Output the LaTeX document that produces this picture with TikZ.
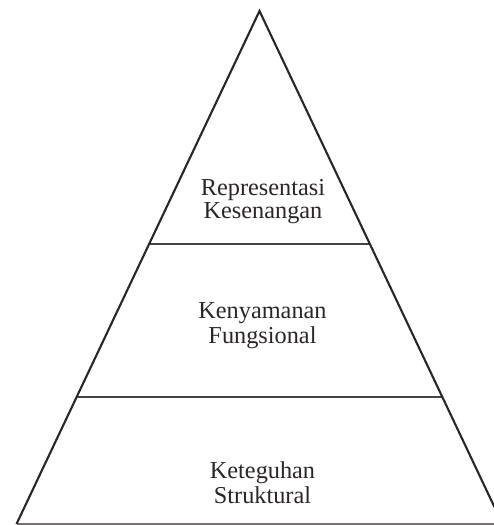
\documentclass[tikz,border=0pt]{standalone}
\usepackage{fontspec}
\setmainfont{Liberation Serif}
\usetikzlibrary{calc}
\definecolor{ink}{HTML}{2A2627}
\definecolor{divider}{HTML}{464243}
\tikzset{
  edge/.style={draw=ink, line width=2.1pt, line join=miter},
  divline/.style={draw=divider, line width=2.8pt},
  baseline/.style={draw=divider!75, line width=2.2pt},
  lbl/.style={anchor=base, inner sep=0pt, text=ink, font=\fontsize{24.3}{25}\selectfont}
}
\begin{document}
\begin{tikzpicture}[x=1pt,y=-1pt]
\useasboundingbox (0,0) rectangle (494,525);
\clip (0,0) rectangle (494,525);
\coordinate (A) at (259.5,11);
\coordinate (BL) at (16.5,524);
\coordinate (BR) at (502.5,524);
\coordinate (L1) at ($(A)!0.4542!(BL)$);
\coordinate (R1) at ($(A)!0.4542!(BR)$);
\coordinate (L2) at ($(A)!0.7524!(BL)$);
\coordinate (R2) at ($(A)!0.7524!(BR)$);
\draw[baseline] (BL) -- (BR);
\draw[divline] (L1) -- (R1);
\draw[divline] (L2) -- (R2);
\draw[edge] (BL) -- (A) -- (BR);
\node[lbl] (t1a) at (263,195) {Representasi};
\node[lbl] (t1b) at (263,218) {Kesenangan};
\node[lbl] (t2a) at (262.5,318) {Kenyamanan};
\node[lbl] (t2b) at (262.5,343) {Fungsional};
\node[lbl] (t3a) at (262.5,478) {Keteguhan};
\node[lbl] (t3b) at (262.5,503) {Struktural};
\end{tikzpicture}
\end{document}
